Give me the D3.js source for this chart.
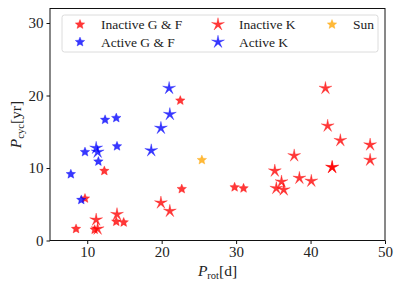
<!DOCTYPE html>
<html>
<head>
<meta charset="utf-8">
<script src="https://cdn.jsdelivr.net/npm/d3@7"></script>
<style>
  body { margin: 0; background: #fff; }
  svg text { font-family: "Liberation Serif", "DejaVu Serif", serif !important; }
</style>
</head>
<body>
<svg id="chart" width="399" height="290"></svg>
<script>
// [Prot (d), Pcyc (yr)]
const inactiveGF = [[8.5, 1.6], [9.7, 5.8], [12.3, 9.6], [22.5, 19.3], [22.7, 7.1], [29.8, 7.35],
  [31.0, 7.2], [13.9, 2.6], [14.9, 2.5], [11.0, 1.5]];
const inactiveK = [[11.2, 2.85], [11.4, 1.6], [14.0, 3.6], [19.9, 5.2], [21.1, 4.05], [35.2, 9.6],
  [35.4, 7.2], [36.1, 8.1], [36.4, 7.0], [37.8, 11.7], [38.5, 8.6], [40.1, 8.2], [42.9, 10.1],
  [42.9, 10.1], [48.0, 11.1], [48.0, 13.2], [44.0, 13.8], [42.3, 15.8], [42.0, 21.0]];
const activeGF = [[7.8, 9.15], [9.2, 5.6], [9.7, 12.2], [12.4, 16.65], [13.9, 16.9], [11.5, 10.9], [14.0, 13.0]];
const activeK = [[11.2, 12.75], [11.4, 12.2], [18.6, 12.4], [19.9, 15.5], [21.1, 17.4], [21.0, 21.0]];
const sun = [[25.4, 11.1]];

const xTicks = [10, 20, 30, 40, 50];
const yTicks = [0, 10, 20, 30];

const margin = { top: 8.5, right: 14, bottom: 49.5, left: 50 };
const width = 399 - margin.left - margin.right;
const height = 290 - margin.top - margin.bottom;

const svg = d3.select("#chart");
const g = svg.append("g").attr("transform", `translate(${margin.left},${margin.top})`);

const xScale = d3.scaleLinear().domain([5, 50]).range([0, width]);
const yScale = d3.scaleLinear().domain([0, 32]).range([height, 0]);

// star path, outer radius r, inner radius r*k
function star(r, k) {
  const p = d3.path();
  for (let i = 0; i < 10; i++) {
    const a = -Math.PI / 2 + i * Math.PI / 5;
    const rr = i % 2 === 0 ? r : r * k;
    if (i === 0) p.moveTo(rr * Math.cos(a), rr * Math.sin(a));
    else p.lineTo(rr * Math.cos(a), rr * Math.sin(a));
  }
  p.closePath();
  return p.toString();
}

const series = [
  { name: "Inactive G & F", data: inactiveGF, color: "#ff0000", path: star(5, 0.45) },
  { name: "Inactive K", data: inactiveK, color: "#ff0000", path: star(6.8, 0.28) },
  { name: "Sun", data: sun, color: "#ffa500", path: star(5, 0.45) },
  { name: "Active G & F", data: activeGF, color: "#0000ff", path: star(5, 0.45) },
  { name: "Active K", data: activeK, color: "#0000ff", path: star(6.8, 0.28) }
];

series.forEach(s => {
  g.append("g").selectAll("path")
    .data(s.data)
    .enter().append("path")
    .attr("d", s.path)
    .attr("transform", d => `translate(${xScale(d[0])},${yScale(d[1])})`)
    .attr("fill", s.color)
    .attr("fill-opacity", 0.78)
    .attr("stroke", s.color)
    .attr("stroke-opacity", 0.5)
    .attr("stroke-width", 0.6);
});

// axes
const xAxis = g.append("g")
  .attr("transform", `translate(0,${height})`)
  .call(d3.axisBottom(xScale).tickValues(xTicks).tickSize(3.5).tickPadding(2.5));
const yAxis = g.append("g")
  .call(d3.axisLeft(yScale).tickValues(yTicks).tickSize(3.5).tickPadding(3));
[xAxis, yAxis].forEach(a => {
  a.select(".domain").remove();
  a.attr("font-family", null);
  a.selectAll("text").attr("font-size", 15).attr("fill", "#222");
  a.selectAll("line").attr("stroke", "#111");
});

g.append("rect")
  .attr("width", width).attr("height", height)
  .attr("fill", "none").attr("stroke", "#111").attr("stroke-width", 1);

// axis labels
svg.append("text")
  .attr("x", margin.left + width / 2).attr("y", 276)
  .attr("text-anchor", "middle").attr("font-size", 15.5).attr("fill", "#222")
  .html('<tspan font-style="italic">P</tspan><tspan font-size="10.5" dy="3">rot</tspan><tspan dy="-3">[d]</tspan>');

svg.append("text")
  .attr("transform", `translate(21,${margin.top + height / 2}) rotate(-90)`)
  .attr("text-anchor", "middle").attr("font-size", 15.5).attr("fill", "#222")
  .html('<tspan font-style="italic">P</tspan><tspan font-size="10.5" dy="3">cyc</tspan><tspan dy="-3">[yr]</tspan>');

// legend
const legend = svg.append("g");
legend.append("rect")
  .attr("x", 62).attr("y", 15).attr("width", 316).attr("height", 37)
  .attr("rx", 2.5).attr("fill", "#fff").attr("fill-opacity", 0.8)
  .attr("stroke", "#dcdcdc").attr("stroke-width", 1);
const legendPos = [[80, 24.5], [218, 24.5], [332, 24.5], [80, 42], [218, 42]];
series.forEach((s, i) => {
  const [lx, ly] = legendPos[i];
  legend.append("path")
    .attr("d", s.path)
    .attr("transform", `translate(${lx},${ly})`)
    .attr("fill", s.color).attr("fill-opacity", 0.78)
    .attr("stroke", s.color).attr("stroke-opacity", 0.5).attr("stroke-width", 0.6);
  legend.append("text")
    .attr("x", lx + 21).attr("y", ly + 4.5)
    .attr("font-size", 13.5).attr("fill", "#222")
    .text(s.name);
});
</script>
</body>
</html>
